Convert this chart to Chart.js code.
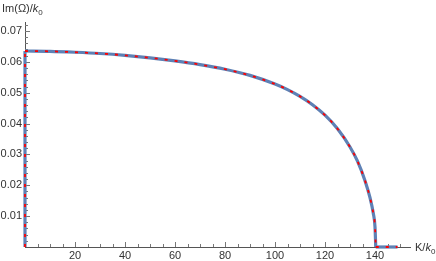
<!DOCTYPE html>
<html>
<head>
<meta charset="utf-8">
<script src="https://cdn.jsdelivr.net/npm/chart.js@4/dist/chart.umd.min.js"></script>
<style>
  html,body{margin:0;padding:0;background:#fff;}
  #wrap{position:relative;width:436px;height:261px;overflow:hidden;}
  .lbl{position:absolute;font-family:"Liberation Sans",Arial,sans-serif;font-size:11px;color:#333;white-space:nowrap;line-height:1;}
  .lbl sub{font-size:8px;vertical-align:-3px;line-height:0;}
</style>
</head>
<body>
<div id="wrap">
  <canvas id="c" width="436" height="261"></canvas>
  <div class="lbl" id="ylab" style="left:2px;top:3px">Im(Ω)/<i>k</i><sub>0</sub></div>
  <div class="lbl" id="xlab" style="left:415px;top:242px">K/<i>k</i><sub>0</sub></div>
</div>
<script>
// ---- data ----
const kValues = [0, 10, 20, 30, 40, 50, 60, 70, 80, 90, 100, 105, 110, 115, 120, 125, 130, 133, 136, 138, 139.3, 140, 140.3];
const imOmega = [0.0635, 0.0634, 0.0631, 0.0627, 0.0621, 0.0613, 0.0603, 0.0591, 0.0576, 0.0556, 0.0528, 0.0510, 0.0488, 0.0461, 0.0427, 0.0383, 0.0324, 0.0278, 0.0215, 0.0160, 0.0110, 0.0065, 0];
const vertK  = [0, 0];
const vertIm = [0, 0.0635];
const tailK  = [140.3, 149];
const tailIm = [0, 0];
const xMajorTicks = [20, 40, 60, 80, 100, 120, 140];
const yMajorTicks = [0.01, 0.02, 0.03, 0.04, 0.05, 0.06, 0.07];

const toPts = (xs, ys) => xs.map((x, i) => ({x: x, y: ys[i]}));
const curve = toPts(kValues, imOmega);
const vert = toPts(vertK, vertIm);
const tail = toPts(tailK, tailIm);

const BLUE = '#5e81b5';
const RED = '#ff0000';
function pair(data, monotone) {
  const common = {data: data, pointRadius: 0, clip: false, fill: false,
    cubicInterpolationMode: monotone ? 'monotone' : 'default', tension: 0};
  return [
    Object.assign({}, common, {borderColor: BLUE, borderWidth: 3.2, order: 2}),
    Object.assign({}, common, {borderColor: RED, borderWidth: 1.8, borderDash: [3, 7], order: 1})
  ];
}

const tickPlugin = {
  id: 'mmaTicks',
  beforeDatasetsDraw(chart) {
    const ctx = chart.ctx;
    const xs = chart.scales.x, ys = chart.scales.y;
    const x0 = xs.getPixelForValue(0), y0 = ys.getPixelForValue(0);
    ctx.save();
    ctx.strokeStyle = '#777';
    ctx.lineWidth = 1;
    for (let v = 5; v <= 150; v += 5) {
      const p = Math.round(xs.getPixelForValue(v)) + 0.5;
      const len = xMajorTicks.includes(v) ? 5 : 3;
      ctx.beginPath(); ctx.moveTo(p, y0); ctx.lineTo(p, y0 - len); ctx.stroke();
    }
    for (let i = 1; i <= 36; i++) {
      const v = i * 0.002;
      const p = Math.round(ys.getPixelForValue(v)) + 0.5;
      const len = (i % 5 === 0) ? 5 : 3;
      ctx.beginPath(); ctx.moveTo(x0, p); ctx.lineTo(x0 + len, p); ctx.stroke();
    }
    ctx.restore();
  }
};

new Chart(document.getElementById('c'), {
  type: 'line',
  data: {
    datasets: [].concat(pair(vert, false), pair(curve, true), pair(tail, false))
  },
  options: {
    responsive: false,
    animation: false,
    devicePixelRatio: 1,
    layout: {padding: {top: 22, right: 26, bottom: 0, left: 0}},
    plugins: {legend: {display: false}, tooltip: {enabled: false}},
    scales: {
      x: {
        type: 'linear', min: 0, max: 154,
        afterFit: s => { s.height = 14; },
        afterBuildTicks: s => { s.ticks = xMajorTicks.map(v => ({value: v})); },
        grid: {display: false, drawTicks: false, tickLength: 0},
        border: {display: true, color: '#555', width: 1},
        ticks: {color: '#333', padding: 2, maxRotation: 0, autoSkip: false,
          font: {family: '"Liberation Sans", Arial, sans-serif', size: 11}}
      },
      y: {
        type: 'linear', min: 0, max: 0.0729,
        afterFit: s => { s.width = 25; },
        afterBuildTicks: s => { s.ticks = yMajorTicks.map(v => ({value: v})); },
        grid: {display: false, drawTicks: false, tickLength: 0},
        border: {display: true, color: '#555', width: 1},
        ticks: {color: '#333', padding: 3, autoSkip: false,
          callback: v => v.toFixed(2),
          font: {family: '"Liberation Sans", Arial, sans-serif', size: 11}}
      }
    }
  },
  plugins: [tickPlugin]
});
</script>
</body>
</html>
